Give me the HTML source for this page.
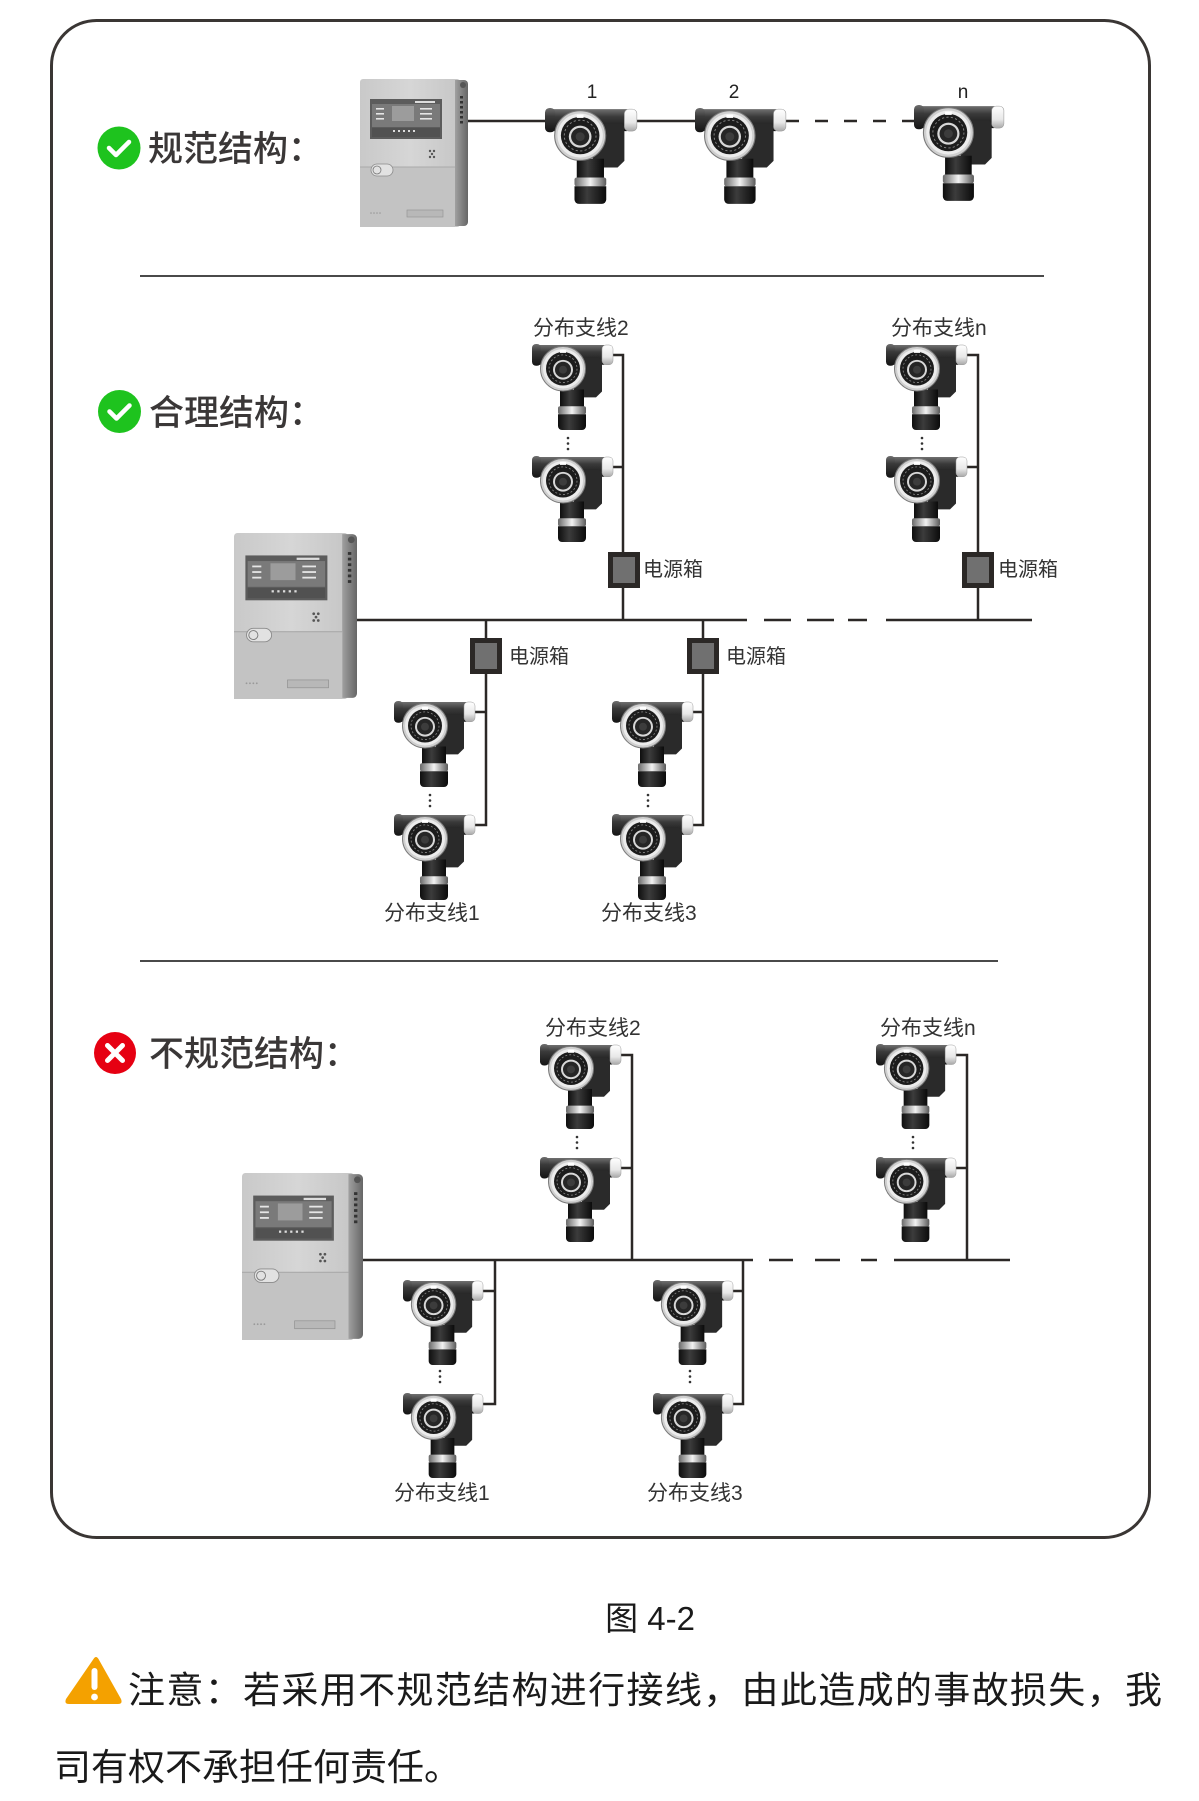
<!DOCTYPE html>
<html><head><meta charset="utf-8"><style>
html,body{margin:0;padding:0;background:#fff;}
body{width:1199px;height:1801px;overflow:hidden;}
svg{display:block;}
text{font-family:"Liberation Sans","Noto Sans CJK SC",sans-serif;}
</style></head><body>
<svg width="1199" height="1801" viewBox="0 0 1199 1801" xmlns="http://www.w3.org/2000/svg">
<defs>
 <linearGradient id="cyl" x1="0" y1="0" x2="0" y2="1"><stop offset="0" stop-color="#707070"/><stop offset=".35" stop-color="#3a3a3a"/><stop offset="1" stop-color="#141414"/></linearGradient>
 <linearGradient id="capw" x1="0" y1="0" x2="0" y2="1"><stop offset="0" stop-color="#fff"/><stop offset=".6" stop-color="#e8e8e8"/><stop offset="1" stop-color="#a8a8a8"/></linearGradient>
 <linearGradient id="band" x1="0" y1="0" x2="1" y2="0"><stop offset="0" stop-color="#6a6a6a"/><stop offset=".5" stop-color="#f2f2f2"/><stop offset="1" stop-color="#5a5a5a"/></linearGradient>
 <linearGradient id="blk" x1="0" y1="0" x2="1" y2="0"><stop offset="0" stop-color="#0e0e0e"/><stop offset=".4" stop-color="#3c3c3c"/><stop offset="1" stop-color="#0b0b0b"/></linearGradient>
 <linearGradient id="ctlgrad" x1="0" y1="0" x2="1" y2="0"><stop offset="0" stop-color="#c9c9c9"/><stop offset=".5" stop-color="#d6d6d6"/><stop offset="1" stop-color="#c6c6c6"/></linearGradient>
 <linearGradient id="sidegrad" x1="0" y1="0" x2="1" y2="0"><stop offset="0" stop-color="#a0a0a0"/><stop offset="1" stop-color="#666"/></linearGradient>
 <symbol id="det" viewBox="0 0 82 88" preserveAspectRatio="none">
  <rect x="3" y="1" width="72" height="20" rx="3" fill="url(#cyl)"/>
  <rect x="0" y="0" width="9" height="22" rx="4" fill="url(#cyl)"/>
  <path d="M42 14 h24 a4 4 0 0 1 4 4 v30 l-6 6 h-22 z" fill="#2a2a2a"/>
  <rect x="70" y="1" width="11" height="20" rx="4" fill="url(#capw)" stroke="#9a9a9a" stroke-width=".5"/>
  <rect x="28" y="46" width="24" height="19" fill="url(#blk)"/>
  <rect x="26" y="63" width="28" height="8" rx="2" fill="url(#band)"/>
  <path d="M26 71 h28 v12 a4 4 0 0 1 -4 4 h-20 a4 4 0 0 1 -4 -4 z" fill="url(#blk)"/>
  <circle cx="31" cy="25" r="22.5" fill="#cfcfcf" stroke="#7a7a7a" stroke-width="1"/>
  <circle cx="31" cy="25" r="20" fill="#ececec"/>
  <circle cx="31" cy="25" r="17" fill="#1c1c1c"/>
  <circle cx="31" cy="25" r="14" fill="none" stroke="#8a8a8a" stroke-width=".8" stroke-dasharray="2 2"/>
  <circle cx="31" cy="26" r="10" fill="#d8d8d8"/>
  <circle cx="31" cy="26" r="8" fill="#262626"/>
  <circle cx="31" cy="26" r="4" fill="#3c3c3c"/>
  <rect x="28" y="6" width="6" height="3" fill="#fff"/>
 </symbol>
 <symbol id="ctrl" viewBox="0 0 108 148" preserveAspectRatio="none">
  <rect x="0" y="0" width="100" height="148" rx="3" fill="url(#ctlgrad)"/>
  <path d="M95 1 h9 a4 4 0 0 1 4 4 v138 a4 4 0 0 1 -4 4 h-9 z" fill="url(#sidegrad)"/>
  <circle cx="103" cy="6" r="3" fill="#555"/>
  <g fill="#333"><rect x="100" y="17" width="3" height="2.5"/><rect x="100" y="22" width="3" height="2.5"/><rect x="100" y="27" width="3" height="2.5"/><rect x="100" y="32" width="3" height="2.5"/><rect x="100" y="37" width="3" height="2.5"/><rect x="100" y="42" width="3" height="2.5"/></g>
  <rect x="0" y="88" width="95" height="60" fill="#c3c3c3"/>
  <line x1="0" y1="88" x2="95" y2="88" stroke="#aaa" stroke-width="1"/>
  <rect x="10" y="20" width="72" height="40" fill="#5c5c5c"/>
  <rect x="12" y="25" width="68" height="23" fill="#7a7a7a"/>
  <rect x="32" y="27" width="22" height="15" fill="#9c9c9c"/>
  <rect x="55" y="22" width="20" height="2" fill="#ddd"/>
  <g fill="#e6e6e6"><rect x="16" y="29" width="8" height="1.6"/><rect x="16" y="34" width="8" height="1.6"/><rect x="16" y="39" width="8" height="1.6"/><rect x="60" y="29" width="12" height="1.6"/><rect x="60" y="34" width="12" height="1.6"/><rect x="60" y="39" width="12" height="1.6"/></g>
  <rect x="12" y="49" width="68" height="9" fill="#515151"/>
  <g fill="#ddd"><rect x="33" y="51" width="2" height="2"/><rect x="38" y="51" width="2" height="2"/><rect x="43" y="51" width="2" height="2"/><rect x="48" y="51" width="2" height="2"/><rect x="53" y="51" width="2" height="2"/></g>
  <g fill="#555"><circle cx="70" cy="72" r="1.2"/><circle cx="74" cy="72" r="1.2"/><circle cx="72" cy="75" r="1.2"/><circle cx="70" cy="78" r="1.2"/><circle cx="74" cy="78" r="1.2"/></g>
  <rect x="11" y="85" width="22" height="12" rx="6" fill="#e2e2e2" stroke="#8a8a8a" stroke-width=".8"/>
  <circle cx="17" cy="91" r="4" fill="none" stroke="#777" stroke-width=".8"/>
  <rect x="47" y="131" width="36" height="7" fill="#b8b8b8" stroke="#8f8f8f" stroke-width=".6"/>
  <g fill="#999"><circle cx="11" cy="134" r=".8"/><circle cx="14" cy="134" r=".8"/><circle cx="17" cy="134" r=".8"/><circle cx="20" cy="134" r=".8"/></g>
 </symbol>
</defs>

<!-- outer box -->
<rect x="51.5" y="20.5" width="1098" height="1517" rx="45" fill="none" stroke="#3a3634" stroke-width="3"/>

<!-- ===== Section 1 ===== -->
<circle cx="119" cy="148" r="21.5" fill="#1ec31e"/>
<path d="M109 148 l7 7 l13 -13" fill="none" stroke="#fff" stroke-width="4.5" stroke-linecap="round" stroke-linejoin="round"/>
<text x="148" y="161" font-size="35" font-weight="500" fill="#3a3737">规范结构：</text>

<use href="#ctrl" x="360" y="79" width="108" height="148"/>
<g stroke="#2b2826" stroke-width="2.5" fill="none">
 <line x1="468" y1="121" x2="546" y2="121"/>
 <line x1="637" y1="121" x2="696" y2="121"/>
 <line x1="786" y1="121" x2="914" y2="121" stroke-dasharray="13 16"/>
</g>
<use href="#det" x="545" y="108" width="93" height="97"/>
<use href="#det" x="695" y="108" width="92" height="97"/>
<use href="#det" x="914" y="105" width="91" height="97"/>
<g font-size="19" fill="#222" text-anchor="middle">
 <text x="592" y="98">1</text>
 <text x="734" y="98">2</text>
 <text x="963" y="98">n</text>
</g>

<line x1="140" y1="276" x2="1044" y2="276" stroke="#4a4a4a" stroke-width="2"/>

<!-- ===== Section 2 ===== -->
<circle cx="119.5" cy="411.5" r="21.5" fill="#1ec31e"/>
<path d="M109.5 411.5 l7 7 l13 -13" fill="none" stroke="#fff" stroke-width="4.5" stroke-linecap="round" stroke-linejoin="round"/>
<text x="149" y="425" font-size="35" font-weight="500" fill="#3a3737">合理结构：</text>

<use href="#ctrl" x="234" y="533" width="123" height="166"/>
<g stroke="#2b2826" stroke-width="2.5" fill="none">
 <line x1="357" y1="620" x2="747" y2="620"/>
 <line x1="764" y1="620" x2="791" y2="620"/>
 <line x1="807" y1="620" x2="834" y2="620"/>
 <line x1="848" y1="620" x2="867" y2="620"/>
 <line x1="886" y1="620" x2="1032" y2="620"/>
 <polyline points="612,355 623,355 623,620"/>
 <line x1="612" y1="467" x2="623" y2="467"/>
 <polyline points="966,355 978,355 978,620"/>
 <line x1="966" y1="467" x2="978" y2="467"/>
 <polyline points="486,620 486,825 475,825"/>
 <line x1="475" y1="712" x2="486" y2="712"/>
 <polyline points="703,620 703,825 693,825"/>
 <line x1="693" y1="712" x2="703" y2="712"/>
</g>
<g fill="#707070" stroke="#2b2826" stroke-width="5">
 <rect x="610.5" y="554.5" width="27" height="31"/>
 <rect x="964.5" y="554.5" width="27" height="31"/>
 <rect x="472.5" y="640.5" width="27" height="31"/>
 <rect x="689.5" y="640.5" width="27" height="31"/>
</g>
<g font-size="20" fill="#333">
 <text x="643" y="576">电源箱</text>
 <text x="998" y="576">电源箱</text>
 <text x="509" y="663">电源箱</text>
 <text x="726" y="663">电源箱</text>
</g>
<use href="#det" x="532" y="344" width="82" height="87"/>
<use href="#det" x="532" y="456" width="82" height="87"/>
<use href="#det" x="886" y="344" width="82" height="87"/>
<use href="#det" x="886" y="456" width="82" height="87"/>
<use href="#det" x="394" y="701" width="82" height="87"/>
<use href="#det" x="394" y="814" width="82" height="87"/>
<use href="#det" x="612" y="701" width="82" height="87"/>
<use href="#det" x="612" y="814" width="82" height="87"/>
<g fill="#333">
 <circle cx="568" cy="438" r="1.3"/><circle cx="568" cy="443.5" r="1.3"/><circle cx="568" cy="449" r="1.3"/>
 <circle cx="922" cy="438" r="1.3"/><circle cx="922" cy="443.5" r="1.3"/><circle cx="922" cy="449" r="1.3"/>
 <circle cx="430" cy="795" r="1.3"/><circle cx="430" cy="800.5" r="1.3"/><circle cx="430" cy="806" r="1.3"/>
 <circle cx="648" cy="795" r="1.3"/><circle cx="648" cy="800.5" r="1.3"/><circle cx="648" cy="806" r="1.3"/>
</g>
<g font-size="21" fill="#333">
 <text x="533" y="335">分布支线2</text>
 <text x="891" y="335">分布支线n</text>
 <text x="384" y="920">分布支线1</text>
 <text x="601" y="920">分布支线3</text>
</g>

<line x1="140" y1="961" x2="998" y2="961" stroke="#4a4a4a" stroke-width="2"/>

<!-- ===== Section 3 ===== -->
<circle cx="115" cy="1053" r="21" fill="#e60012"/>
<path d="M107.5 1045.5 L122.5 1060.5 M122.5 1045.5 L107.5 1060.5" stroke="#fff" stroke-width="5" stroke-linecap="round"/>
<text x="149" y="1066" font-size="35" font-weight="500" fill="#3a3737">不规范结构：</text>

<use href="#ctrl" x="242" y="1173" width="121" height="167"/>
<g stroke="#2b2826" stroke-width="2.5" fill="none">
 <line x1="363" y1="1260" x2="753" y2="1260"/>
 <line x1="769" y1="1260" x2="793" y2="1260"/>
 <line x1="815" y1="1260" x2="840" y2="1260"/>
 <line x1="861" y1="1260" x2="877" y2="1260"/>
 <line x1="894" y1="1260" x2="1010" y2="1260"/>
 <polyline points="621,1055 632,1055 632,1260"/>
 <line x1="621" y1="1168" x2="632" y2="1168"/>
 <polyline points="956,1055 967,1055 967,1260"/>
 <line x1="956" y1="1168" x2="967" y2="1168"/>
 <polyline points="495,1260 495,1404 483,1404"/>
 <line x1="483" y1="1291" x2="495" y2="1291"/>
 <polyline points="743,1260 743,1404 733,1404"/>
 <line x1="733" y1="1291" x2="743" y2="1291"/>
</g>
<use href="#det" x="540" y="1044" width="82" height="86"/>
<use href="#det" x="540" y="1157" width="82" height="86"/>
<use href="#det" x="876" y="1044" width="81" height="86"/>
<use href="#det" x="876" y="1157" width="81" height="86"/>
<use href="#det" x="403" y="1280" width="81" height="86"/>
<use href="#det" x="403" y="1393" width="81" height="86"/>
<use href="#det" x="653" y="1280" width="81" height="86"/>
<use href="#det" x="653" y="1393" width="81" height="86"/>
<g fill="#333">
 <circle cx="577" cy="1137" r="1.3"/><circle cx="577" cy="1142.5" r="1.3"/><circle cx="577" cy="1148" r="1.3"/>
 <circle cx="913" cy="1137" r="1.3"/><circle cx="913" cy="1142.5" r="1.3"/><circle cx="913" cy="1148" r="1.3"/>
 <circle cx="440" cy="1371" r="1.3"/><circle cx="440" cy="1376.5" r="1.3"/><circle cx="440" cy="1382" r="1.3"/>
 <circle cx="690" cy="1371" r="1.3"/><circle cx="690" cy="1376.5" r="1.3"/><circle cx="690" cy="1382" r="1.3"/>
</g>
<g font-size="21" fill="#333">
 <text x="545" y="1035">分布支线2</text>
 <text x="880" y="1035">分布支线n</text>
 <text x="394" y="1500">分布支线1</text>
 <text x="647" y="1500">分布支线3</text>
</g>

<!-- caption -->
<text x="650" y="1630" font-size="33" fill="#1a1a1a" text-anchor="middle">图 4-2</text>

<!-- warning -->
<path d="M93.5 1659 Q96 1655 98.5 1659 L121 1699 Q123 1704 118 1704 L69 1704 Q64 1704 66 1699 Z" fill="#f4a100"/>
<rect x="91.5" y="1668" width="6" height="22" rx="3" fill="#fff"/>
<circle cx="94.5" cy="1697" r="3.4" fill="#fff"/>
<text x="128" y="1703" font-size="37" fill="#1a1a1a" textLength="1034" lengthAdjust="spacing">注意：若采用不规范结构进行接线，由此造成的事故损失，我</text>
<text x="54" y="1780" font-size="37" fill="#1a1a1a">司有权不承担任何责任。</text>
</svg>
</body></html>
